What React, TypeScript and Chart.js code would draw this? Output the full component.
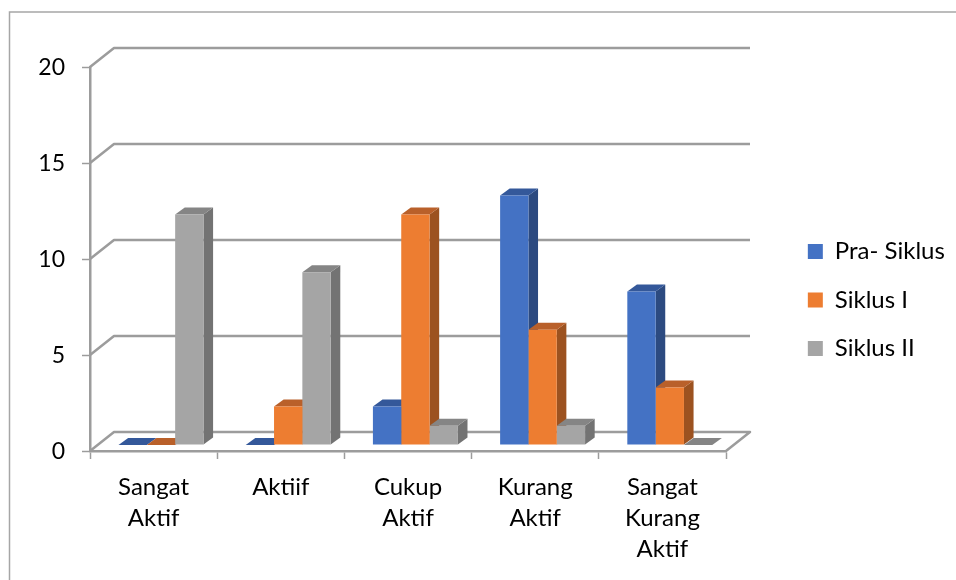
import React, { useEffect, useRef } from "react";
import { Chart, registerables } from "chart.js";

Chart.register(...registerables);

const categories = [["Sangat", "Aktif"], ["Aktiif"], ["Cukup", "Aktif"], ["Kurang", "Aktif"], ["Sangat", "Kurang", "Aktif"]];
const praSiklus = [0, 0, 2, 13, 8];
const siklusI = [0, 2, 12, 6, 3];
const siklusII = [12, 9, 1, 1, 0];
const yTickStep = 5;
const yMax = 20;

const FONT = "Lato";
const frontColors = ["#4472C4", "#ED7D31", "#A5A5A5"];
const topColors = ["#34589A", "#B9602A", "#858585"];
const sideColors = ["#2C4A80", "#9C5220", "#737373"];
const GRID = "#9C9C9C";

const BACK_DX = 24, BACK_DY = -19;
const BAR_SHIFT_X = 7.4, BAR_SHIFT_Y = -6;
const DEPTH_X = 9.6, DEPTH_Y = -7;
const RIGHT_PAD = 16;

const box3d = {
  id: "box3d",
  afterLayout(chart: any) {
    // the legend clips to its own box, which is a little narrower than its text
    chart.legend.right = chart.width;
  },
  beforeDraw(chart: any) {
    const { ctx, width, height } = chart;
    ctx.save();
    ctx.fillStyle = "#fff";
    ctx.fillRect(0, 0, width, height);
    ctx.strokeStyle = "#A6A6A6";
    ctx.lineWidth = 1.5;
    ctx.beginPath();
    ctx.moveTo(9.5, height);
    ctx.lineTo(9.5, 12);
    ctx.lineTo(width, 12);
    ctx.stroke();
    ctx.restore();
  },
  beforeDatasetsDraw(chart: any) {
    const { ctx, scales } = chart;
    const { x, y } = scales;
    ctx.save();
    ctx.strokeStyle = GRID;
    ctx.lineWidth = 2.5;
    ctx.lineJoin = "round";
    y.ticks.forEach((t: any) => {
      const py = y.getPixelForValue(t.value);
      ctx.beginPath();
      ctx.moveTo(x.left, py);
      ctx.lineTo(x.left + BACK_DX, py + BACK_DY);
      ctx.lineTo(x.right + BACK_DX, py + BACK_DY);
      if (t.value === 0) ctx.lineTo(x.right, py);
      ctx.stroke();
    });
    ctx.restore();

    ctx.save();
    ctx.translate(BAR_SHIFT_X, BAR_SHIFT_Y);
    const metas = chart.data.datasets.map((_: any, i: number) => chart.getDatasetMeta(i));
    categories.forEach((_, c) => {
      metas.forEach((meta: any, d: number) => {
        const b = meta.data[c].getProps(["x", "y", "base", "width"], true);
        const l = b.x - b.width / 2, r = b.x + b.width / 2;
        if (b.base - b.y > 0.5) {
          ctx.fillStyle = sideColors[d];
          ctx.beginPath();
          ctx.moveTo(r, b.y);
          ctx.lineTo(r + DEPTH_X, b.y + DEPTH_Y);
          ctx.lineTo(r + DEPTH_X, b.base + DEPTH_Y);
          ctx.lineTo(r, b.base);
          ctx.closePath();
          ctx.fill();
        }
        ctx.fillStyle = topColors[d];
        ctx.beginPath();
        ctx.moveTo(l, b.y);
        ctx.lineTo(l + DEPTH_X, b.y + DEPTH_Y);
        ctx.lineTo(r + DEPTH_X, b.y + DEPTH_Y);
        ctx.lineTo(r, b.y);
        ctx.closePath();
        ctx.fill();
      });
    });
  },
  afterDatasetsDraw(chart: any) {
    chart.ctx.restore();
  },
};

export default function App() {
  const ref = useRef<HTMLCanvasElement | null>(null);
  useEffect(() => {
    document.body.style.margin = "0";
    const chart = new Chart(ref.current as HTMLCanvasElement, {
      type: "bar",
      data: {
        labels: categories as any,
        datasets: [
          { label: "Pra- Siklus", data: praSiklus, backgroundColor: frontColors[0], clip: false as any },
          { label: "Siklus I", data: siklusI, backgroundColor: frontColors[1], clip: false as any },
          { label: "Siklus II", data: siklusII, backgroundColor: frontColors[2], clip: false as any },
        ],
      },
      plugins: [box3d],
      options: {
        responsive: false,
        animation: false,
        devicePixelRatio: 1,
        layout: { padding: { top: 20, left: 0, right: RIGHT_PAD, bottom: 0 } },
        datasets: { bar: { categoryPercentage: 0.668, barPercentage: 1, borderWidth: 0 } },
        plugins: {
          tooltip: { enabled: false },
          legend: {
            position: "right",
            labels: {
              color: "#000",
              boxWidth: 15,
              boxHeight: 15,
              padding: 24.5,
              font: { family: FONT, size: 24 },
            },
          },
        },
        scales: {
          x: {
            position: "bottom",
            grid: { display: true, drawOnChartArea: false, drawTicks: true, tickLength: 8, tickColor: GRID, tickWidth: 1.5, offset: true },
            border: { display: true, color: GRID, width: 2.5 },
            ticks: {
              color: "#000",
              autoSkip: false,
              maxRotation: 0,
              minRotation: 0,
              padding: 13,
              font: { family: FONT, size: 24, lineHeight: 1.29 },
            },
            afterFit(s: any) { s.height = 129; },
          },
          y: {
            position: "left",
            min: 0,
            max: yMax,
            grid: { display: true, drawOnChartArea: false, drawTicks: true, tickLength: 8, tickColor: GRID, tickWidth: 1.5 },
            border: { display: true, color: GRID, width: 2.5 },
            ticks: {
              stepSize: yTickStep,
              color: "#000",
              padding: 17,
              labelOffset: 1,
              font: { family: FONT, size: 23 },
            },
            afterFit(s: any) { s.width = 90; },
          },
          spacerRight: {
            type: "linear",
            axis: "y",
            position: "right",
            grid: { display: false },
            border: { display: false },
            ticks: { display: false },
            afterFit(s: any) { s.width = 230 - RIGHT_PAD - s.chart.legend.width; },
          },
          spacerTop: {
            type: "linear",
            axis: "x",
            position: "top",
            grid: { display: false },
            border: { display: false },
            ticks: { display: false },
            afterFit(s: any) { s.height = 47; },
          },
        } as any,
      },
    });
    return () => chart.destroy();
  }, []);
  return (
    <div style={{ position: "absolute", left: 0, top: 0, width: 956, height: 580 }}>
      <canvas ref={ref} width={956} height={580} style={{ display: "block" }} />
    </div>
  );
}
